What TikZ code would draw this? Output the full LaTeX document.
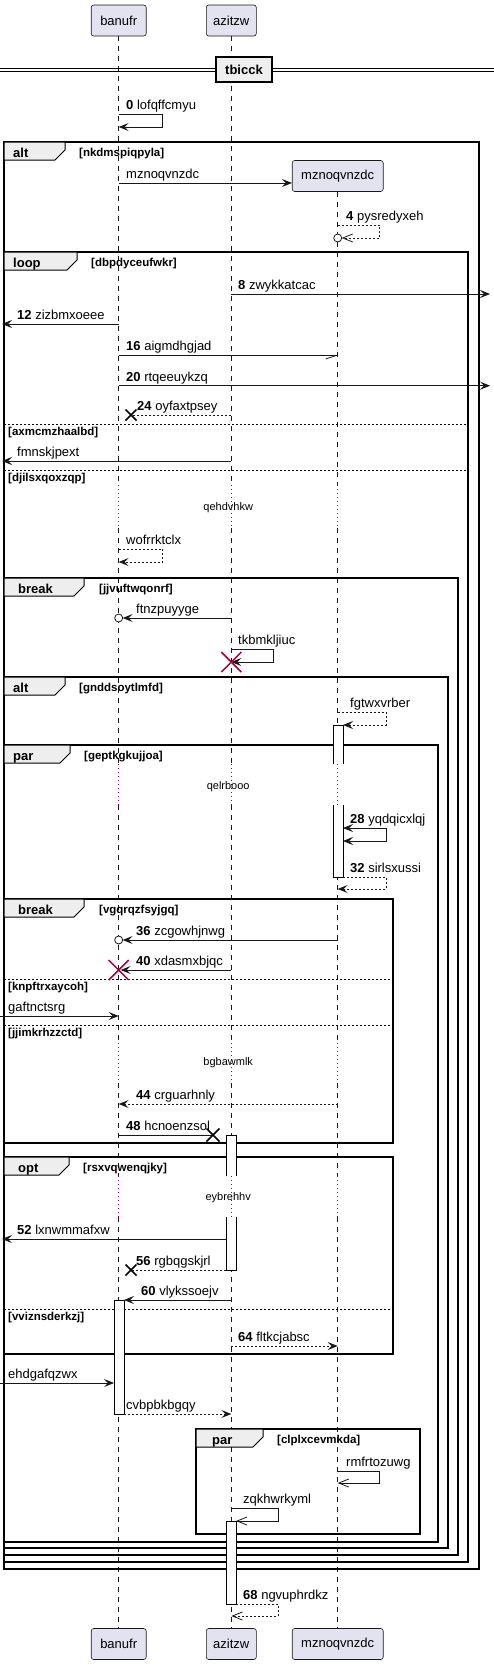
\documentclass[tikz,border=0pt]{standalone}
\usepackage{fontspec}
\setmainfont{Liberation Sans}
\usetikzlibrary{arrows.meta}
\definecolor{pfill}{HTML}{E2E2F0}
\definecolor{pline}{HTML}{181818}
\definecolor{tabfill}{HTML}{EEEEEE}
\definecolor{delayc}{HTML}{A80036}
\begin{document}
\begin{tikzpicture}[x=1pt,y=-1pt,
  pbox/.style={draw=pline, fill=pfill, rounded corners=2.5pt, line width=0.6pt, minimum height=31pt, inner sep=0pt, font=\fontsize{13}{15}\selectfont},
  life/.style={draw=pline, line width=0.5pt, dash pattern=on 5pt off 5pt},
  delayline/.style={draw=delayc, line width=1pt, dash pattern=on 1pt off 3pt},
  msg/.style={draw=pline, line width=0.8pt},
  dmsg/.style={msg, dash pattern=on 2pt off 2pt},
  arr/.style={-{Stealth[length=10pt,width=8pt,inset=4pt]}},
  oarr/.style={-{Straight Barb[length=10pt,width=8pt]}},
  lbl/.style={anchor=base west, inner sep=0pt, font=\fontsize{13}{15}\selectfont},
  guard/.style={anchor=base west, inner sep=0pt, font=\fontsize{11.5}{13}\selectfont\bfseries},
  tablbl/.style={anchor=base west, inner sep=0pt, font=\fontsize{13}{15}\selectfont\bfseries},
  frm/.style={draw=black, line width=1.5pt},
  tabs/.style={draw=black, fill=tabfill, line width=1pt},
  elsesep/.style={draw=black, line width=0.8pt, dash pattern=on 2pt off 2pt},
  actbar/.style={draw=black, line width=0.8pt},
  dtext/.style={anchor=base, inner sep=0pt, font=\fontsize{11}{13}\selectfont},
  xmark/.style={draw=black, line width=1.5pt},
  rxmark/.style={draw=delayc, line width=1.5pt},
]
\useasboundingbox (0,0) rectangle (494,1665);
\fill[white] (0,0) rectangle (494,1665);
% lifeline x references
\coordinate (B) at (118.7,0);
\coordinate (A) at (231.3,0);
\coordinate (M) at (337.7,0);
\coordinate (LE) at (2,0);
\coordinate (RE) at (490,0);
\coordinate (L0) at (0,0);
% participants
\node[pbox, minimum width=55pt] (bt) at (118.7,20.5) {banufr};
\node[pbox, minimum width=50pt] (at) at (231.3,20.5) {azitzw};
\node[pbox, minimum width=91pt] (mt) at (337.7,176) {mznoqvnzdc};
\node[pbox, minimum width=55pt] (bb) at (118.7,1644) {banufr};
\node[pbox, minimum width=50pt] (ab) at (231.3,1644) {azitzw};
\node[pbox, minimum width=91pt] (mb) at (337.7,1644) {mznoqvnzdc};
% lifelines
\foreach \p/\s/\e in {B/bt/bb, A/at/ab, M/mt/mb}{
  \draw[life] (\s.south) -- (\p|-0,485);
  \draw[delayline] (\p|-0,485) -- (\p|-0,528);
  \draw[life] (\p|-0,528) -- (\p|-0,764);
  \draw[delayline] (\p|-0,764) -- (\p|-0,805);
  \draw[life] (\p|-0,805) -- (\p|-0,1039);
  \draw[delayline] (\p|-0,1039) -- (\p|-0,1083);
  \draw[life] (\p|-0,1083) -- (\p|-0,1176);
  \draw[delayline] (\p|-0,1176) -- (\p|-0,1217);
  \draw[life] (\p|-0,1217) -- (\e.north);
}
% divider
\draw[line width=1pt] (0,68.3) -- (494,68.3);
\draw[line width=1pt] (0,71.3) -- (494,71.3);
\node[draw=black, line width=1.5pt, fill=tabfill, minimum width=56pt, minimum height=25pt, inner sep=0pt, font=\fontsize{13}{15}\selectfont\bfseries] (div) at (244,69.5) {tbicck};
% frames
\draw[frm] (4,142) rectangle (479,1569);
\draw[tabs] (4,142) -- (65,142) -- (65,150) -- (55,160) -- (4,160) -- cycle;
\node[tablbl] (f1t) at (13,157) {alt};
\node[guard] (f1g) at (79,156) {[nkdmspiqpyla]};
\draw[frm] (4,252) rectangle (468,1562);
\draw[tabs] (4,252) -- (77,252) -- (77,260) -- (67,270) -- (4,270) -- cycle;
\node[tablbl] (f2t) at (13,267) {loop};
\node[guard] (f2g) at (91,266) {[dbpdyceufwkr]};
\draw[elsesep] (4,424.3) -- (468,424.3);
\node[guard] (f2e1) at (8,435) {[axmcmzhaalbd]};
\draw[elsesep] (4,470.7) -- (468,470.7);
\node[guard] (f2e2) at (8,481) {[djilsxqoxzqp]};
\draw[frm] (4,578) rectangle (458,1555);
\draw[tabs] (4,578) -- (84,578) -- (84,586) -- (74,596) -- (4,596) -- cycle;
\node[tablbl] (f3t) at (18,593) {break};
\node[guard] (f3g) at (99,592) {[jjvuftwqonrf]};
\draw[frm] (4,677) rectangle (448,1548);
\draw[tabs] (4,677) -- (65,677) -- (65,685) -- (55,695) -- (4,695) -- cycle;
\node[tablbl] (f4t) at (13,692) {alt};
\node[guard] (f4g) at (79,691) {[gnddsoytlmfd]};
\draw[frm] (4,745) rectangle (438,1542);
\draw[tabs] (4,745) -- (70,745) -- (70,753) -- (60,763) -- (4,763) -- cycle;
\node[tablbl] (f5t) at (13,760) {par};
\node[guard] (f5g) at (84,759) {[geptkgkujjoa]};
\draw[frm] (4,899) rectangle (393,1143);
\draw[tabs] (4,899) -- (84,899) -- (84,907) -- (74,917) -- (4,917) -- cycle;
\node[tablbl] (f6t) at (18,914) {break};
\node[guard] (f6g) at (99,913) {[vgqrqzfsyjgq]};
\draw[elsesep] (4,979) -- (393,979);
\node[guard] (f6e1) at (8,990) {[knpftrxaycoh]};
\draw[elsesep] (4,1025) -- (393,1025);
\node[guard] (f6e2) at (8,1036) {[jjimkrhzzctd]};
\draw[frm] (4,1157) rectangle (393,1354);
\draw[tabs] (4,1157) -- (69,1157) -- (69,1165) -- (59,1175) -- (4,1175) -- cycle;
\node[tablbl] (f7t) at (18,1172) {opt};
\node[guard] (f7g) at (83,1171) {[rsxvqwenqjky]};
\draw[elsesep] (4,1309) -- (393,1309);
\node[guard] (f7e1) at (8,1320) {[vviznsderkzj]};
\draw[frm] (196,1429) rectangle (420,1534);
\draw[tabs] (196,1429) -- (263,1429) -- (263,1437) -- (253,1447) -- (196,1447) -- cycle;
\node[tablbl] (f8t) at (212,1444) {par};
\node[guard] (f8g) at (277,1443) {[clplxcevmkda]};
% delays
\node[dtext] (d1) at (228.2,510) {qehdvhkw};
\node[dtext] (d2) at (228.2,789) {qelrbooo};
\node[dtext] (d3) at (228.2,1065) {bgbawmlk};
\node[dtext] (d4) at (228.2,1200) {eybrehhv};
% activation bars
\fill[white] (333,725) rectangle (343,764);
\draw[actbar] (333,764) -- (333,725) -- (343,725) -- (343,764);
\fill[white] (333,805) rectangle (343,877);
\draw[actbar] (333,805) -- (333,877) -- (343,877) -- (343,805);
\fill[white] (226,1135) rectangle (236,1176);
\draw[actbar] (226,1176) -- (226,1135) -- (236,1135) -- (236,1176);
\fill[white] (226,1217) rectangle (236,1270);
\draw[actbar] (226,1217) -- (226,1270) -- (236,1270) -- (236,1217);
\draw[actbar, fill=white] (114,1300) rectangle (124,1414);
\draw[actbar, fill=white] (226,1521) rectangle (236,1604);
% messages
\draw[msg, arr] (B|-0,114) -- ++(44,0) -- ++(0,13) -- (B|-0,127);
\node[lbl] (l0) at (126,109) {\textbf{0} lofqffcmyu};
\draw[msg, arr] (B|-0,183) -- (mt.west|-0,183);
\node[lbl] (lc) at (126,178) {mznoqvnzdc};
\draw[dmsg, oarr] (M|-0,225) -- ++(42,0) -- ++(0,13) -- ([xshift=4pt]M|-0,238);
\draw[msg, fill=white] (M|-0,238) circle (4pt);
\node[lbl] (l4) at (346,220) {\textbf{4} pysredyxeh};
\draw[msg, arr] (A|-0,294) -- (RE|-0,294);
\node[lbl] (l8) at (238,289) {\textbf{8} zwykkatcac};
\draw[msg, arr] (B|-0,324) -- (LE|-0,324);
\node[lbl] (l12) at (17,319.5) {\textbf{12} zizbmxoeee};
\draw[msg] (B|-0,355) -- (M|-0,355);
\draw[msg] (M|-0,355) -- ++(-12,4);
\node[lbl] (l16) at (126,350) {\textbf{16} aigmdhgjad};
\draw[msg, arr] (B|-0,385.7) -- (RE|-0,385.7);
\node[lbl] (l20) at (126,381) {\textbf{20} rtqeeuykzq};
\coordinate (x24) at (131,415);
\draw[dmsg] (A|-0,415) -- (x24);
\draw[xmark] ([shift={(-5.5,-5.5)}]x24) -- ([shift={(5.5,5.5)}]x24) ([shift={(-5.5,5.5)}]x24) -- ([shift={(5.5,-5.5)}]x24);
\node[lbl] (l24) at (137,410) {\textbf{24} oyfaxtpsey};
\draw[msg, arr] (A|-0,461) -- (LE|-0,461);
\node[lbl] (lf) at (17,456) {fmnskjpext};
\draw[dmsg, arr] (B|-0,549) -- ++(44,0) -- ++(0,13) -- (B|-0,562);
\node[lbl] (lw) at (126,544) {wofrrktclx};
\draw[msg, arr] (A|-0,618) -- ([xshift=4pt]B|-0,618);
\draw[msg, fill=white] (B|-0,618) circle (4pt);
\node[lbl] (lft) at (136,613) {ftnzpuyyge};
\draw[msg, arr] (A|-0,649) -- ++(42,0) -- ++(0,13) -- (A|-0,662);
\coordinate (xt) at (231.3,662);
\draw[rxmark] ([shift={(-10,-10)}]xt) -- ([shift={(10,10)}]xt) ([shift={(-10,10)}]xt) -- ([shift={(10,-10)}]xt);
\node[lbl] (ltk) at (238,644) {tkbmkljiuc};
\draw[dmsg, arr] (M|-0,712) -- (386,712) -- (386,725) -- (343,725);
\node[lbl] (lfg) at (350,707) {fgtwxvrber};
\draw[msg, {Stealth[length=10pt,width=8pt,inset=4pt]}-{Stealth[length=10pt,width=8pt,inset=4pt]}] (343,828) -- (386,828) -- (386,841) -- (343,841);
\node[lbl] (l28) at (350,823) {\textbf{28} yqdqicxlqj};
\draw[dmsg, arr] (343,877) -- (386,877) -- (386,889) -- (M|-0,889);
\node[lbl] (l32) at (350,872) {\textbf{32} sirlsxussi};
\draw[msg, arr] (M|-0,940) -- ([xshift=4pt]B|-0,940);
\draw[msg, fill=white] (B|-0,940) circle (4pt);
\node[lbl] (l36) at (136,935) {\textbf{36} zcgowhjnwg};
\draw[msg, arr] (A|-0,970) -- ([xshift=2pt]B|-0,970);
\coordinate (x40) at (118.7,970);
\draw[rxmark] ([shift={(-10,-10)}]x40) -- ([shift={(10,10)}]x40) ([shift={(-10,10)}]x40) -- ([shift={(10,-10)}]x40);
\node[lbl] (l40) at (136,965) {\textbf{40} xdasmxbjqc};
\draw[msg, arr] (L0|-0,1016) -- (B|-0,1016);
\node[lbl] (lg) at (8,1011) {gaftnctsrg};
\draw[dmsg, arr] (M|-0,1104) -- (B|-0,1104);
\node[lbl] (l44) at (136,1099) {\textbf{44} crguarhnly};
\coordinate (x48) at (213,1135);
\draw[msg] (B|-0,1135) -- (x48);
\draw[xmark] ([shift={(-6.5,-6.5)}]x48) -- ([shift={(6.5,6.5)}]x48) ([shift={(-6.5,6.5)}]x48) -- ([shift={(6.5,-6.5)}]x48);
\node[lbl] (l48) at (126,1130) {\textbf{48} hcnoenzsol};
\draw[msg, arr] (226,1239) -- (LE|-0,1239);
\node[lbl] (l52) at (17,1234) {\textbf{52} lxnwmmafxw};
\coordinate (x56) at (131,1270);
\draw[dmsg] (226,1270) -- (x56);
\draw[xmark] ([shift={(-5.5,-5.5)}]x56) -- ([shift={(5.5,5.5)}]x56) ([shift={(-5.5,5.5)}]x56) -- ([shift={(5.5,-5.5)}]x56);
\node[lbl] (l56) at (136,1265) {\textbf{56} rgbqgskjrl};
\draw[msg, arr] (A|-0,1300) -- (124,1300);
\node[lbl] (l60) at (141,1295) {\textbf{60} vlykssoejv};
\draw[dmsg, arr] (A|-0,1346) -- (M|-0,1346);
\node[lbl] (l64) at (238,1341) {\textbf{64} fltkcjabsc};
\draw[msg, arr] (L0|-0,1383) -- (114,1383);
\node[lbl] (le) at (8,1378) {ehdgafqzwx};
\draw[dmsg, arr] (124,1414) -- (A|-0,1414);
\node[lbl] (lcv) at (126,1409) {cvbpbkbgqy};
\draw[msg, oarr] (M|-0,1471) -- ++(42,0) -- ++(0,12) -- (M|-0,1483);
\node[lbl] (lr) at (346,1466) {rmfrtozuwg};
\draw[msg, oarr] (A|-0,1508) -- (278,1508) -- (278,1521) -- (236,1521);
\node[lbl] (lz) at (243,1503) {zqkhwrkyml};
\draw[dmsg, oarr] (236,1604) -- (278,1604) -- (278,1616) -- (A|-0,1616);
\node[lbl] (l68) at (243,1599) {\textbf{68} ngvuphrdkz};
\end{tikzpicture}
\end{document}
